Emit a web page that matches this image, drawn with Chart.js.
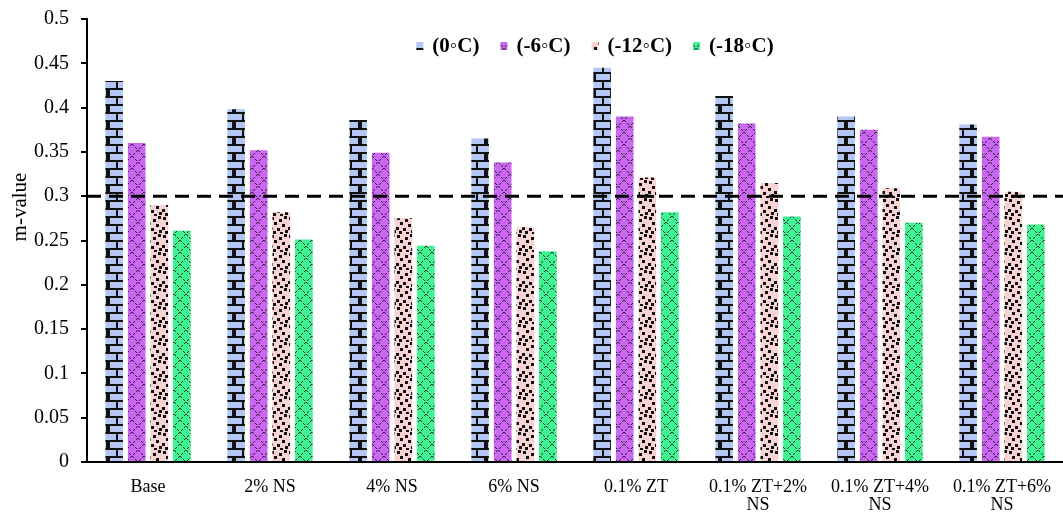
<!DOCTYPE html>
<html>
<head>
<meta charset="utf-8">
<script src="https://cdn.jsdelivr.net/npm/chart.js@4.4.0/dist/chart.umd.min.js"></script>
<style>
  html, body { margin: 0; padding: 0; background: #fff; }
  #wrap { width: 1063px; height: 514px; }
</style>
</head>
<body>
<div id="wrap"><canvas id="c" width="1063" height="514"></canvas></div>
<script>
const categories = ['Base', '2% NS', '4% NS', '6% NS', '0.1% ZT',
  ['0.1% ZT+2%', 'NS'], ['0.1% ZT+4%', 'NS'], ['0.1% ZT+6%', 'NS']];
const seriesNames = ['(0◦C)', '(-6◦C)', '(-12◦C)', '(-18◦C)'];
const temp0 =   [0.430, 0.398, 0.386, 0.365, 0.445, 0.413, 0.390, 0.381];
const temp6 =   [0.360, 0.352, 0.349, 0.338, 0.390, 0.382, 0.375, 0.367];
const temp12 =  [0.290, 0.282, 0.275, 0.265, 0.321, 0.315, 0.309, 0.305];
const temp18 =  [0.261, 0.251, 0.244, 0.238, 0.282, 0.277, 0.270, 0.268];
const yTicks = [0, 0.05, 0.1, 0.15, 0.2, 0.25, 0.3, 0.35, 0.4, 0.45, 0.5];
const threshold = 0.3;

const SERIF = '"Liberation Serif", "Times New Roman", serif';

function tile(w, h, draw) {
  const cv = document.createElement('canvas');
  cv.width = w; cv.height = h;
  const g = cv.getContext('2d');
  draw(g, w, h);
  return document.getElementById('c').getContext('2d').createPattern(cv, 'repeat');
}

// brick texture
const brick = tile(18, 16, (g, w, h) => {
  g.fillStyle = '#b2c5f3'; g.fillRect(0, 0, w, h);
  g.fillStyle = '#111';
  g.fillRect(0, 0, w, 2);
  g.fillRect(0, 8, w, 2);
  g.fillRect(8, 2, 2, 6);
  g.fillRect(0, 10, 2, 6);
  g.fillRect(16, 10, 2, 6);
});

// dotted diamond lattice
function lattice(bg) {
  return tile(12, 12, (g, w, h) => {
    g.fillStyle = bg; g.fillRect(0, 0, w, h);
    g.fillStyle = 'rgba(30,10,40,0.85)';
    for (let i = 0; i < 12; i++) {
      if (i % 3 === 2) continue;
      g.fillRect(i, i, 1, 1);
      g.fillRect(11 - i, i, 1, 1);
    }
  });
}
const purple = lattice('#c967f0');
const green = lattice('#3ff592');

// speckled squares
const speckle = tile(18, 18, (g, w, h) => {
  g.fillStyle = '#f7d3d3'; g.fillRect(0, 0, w, h);
  g.fillStyle = '#111';
  const pts = [[1,1],[9,3],[14,0],[4,6],[12,8],[0,11],[7,12],[15,14],[3,15],[10,16]];
  pts.forEach(([x, y]) => g.fillRect(x, y, 3, 3));
});

const fills = [brick, purple, speckle, green];
const series = [temp0, temp6, temp12, temp18];

const overlay = {
  id: 'overlay',
  afterDatasetsDraw(chart) {
    const { ctx, chartArea: a, scales: { y } } = chart;
    // reference line
    const yy = y.getPixelForValue(threshold);
    ctx.save();
    ctx.strokeStyle = '#000';
    ctx.lineWidth = 3;
    ctx.setLineDash([14, 8]);
    ctx.beginPath();
    ctx.moveTo(a.left, yy);
    ctx.lineTo(a.right, yy);
    ctx.stroke();
    ctx.restore();

    // legend
    ctx.save();
    ctx.font = 'bold 21px ' + SERIF;
    ctx.textBaseline = 'middle';
    const boxW = 7, boxH = 8, gapBox = 9, gapItem = 21;
    let total = 0;
    const widths = seriesNames.map(n => ctx.measureText(n).width);
    widths.forEach((w, i) => { total += boxW + gapBox + w + (i < widths.length - 1 ? gapItem : 0); });
    let x = 595 - total / 2;
    const cy = 47;
    seriesNames.forEach((n, i) => {
      ctx.fillStyle = fills[i];
      ctx.fillRect(x, cy - boxH / 2 - 1, boxW, boxH);
      x += boxW + gapBox;
      ctx.fillStyle = '#000';
      ctx.fillText(n, x, cy);
      x += widths[i] + gapItem;
    });
    ctx.restore();

    // axis title
    ctx.save();
    ctx.font = '21px ' + SERIF;
    ctx.fillStyle = '#000';
    ctx.textAlign = 'center';
    ctx.textBaseline = 'middle';
    ctx.translate(20, 207);
    ctx.rotate(-Math.PI / 2);
    ctx.fillText('m-value', 0, 0);
    ctx.restore();
  }
};

new Chart(document.getElementById('c'), {
  type: 'bar',
  data: {
    labels: categories,
    datasets: series.map((d, i) => ({
      label: seriesNames[i],
      data: d,
      backgroundColor: fills[i],
      borderWidth: 0,
      categoryPercentage: 0.74,
      barPercentage: 0.78
    }))
  },
  options: {
    responsive: false,
    animation: false,
    layout: { padding: { top: 19, right: 0, left: 0, bottom: 0 } },
    plugins: { legend: { display: false }, tooltip: { enabled: false } },
    scales: {
      x: {
        grid: { display: false, drawTicks: false },
        border: { color: '#000', width: 2 },
        ticks: { color: '#000', font: { family: SERIF, size: 18, lineHeight: 1.0 }, padding: 16, maxRotation: 0, autoSkip: false },
        afterFit(s) { s.height = 52; s.paddingLeft = 0; s.paddingRight = 0; }
      },
      y: {
        min: 0, max: 0.5,
        afterBuildTicks(s) { s.ticks = yTicks.map(v => ({ value: v })); },
        grid: { drawOnChartArea: false, drawTicks: true, tickLength: 6, color: '#000', lineWidth: 2 },
        border: { color: '#000', width: 2 },
        ticks: { color: '#000', font: { family: SERIF, size: 20 }, padding: 12,
          callback: v => String(Math.round(v * 100) / 100) },
        afterFit(s) { s.width = 87; s.paddingTop = 0; s.paddingBottom = 0; }
      }
    }
  },
  plugins: [overlay]
});
</script>
</body>
</html>
